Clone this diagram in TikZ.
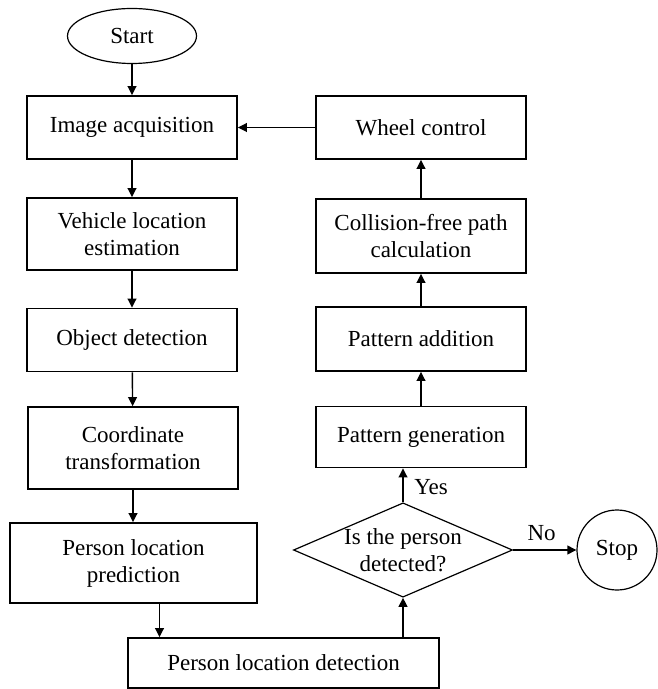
\documentclass[tikz,border=0pt]{standalone}
\usepackage{fontspec}
\setmainfont{Liberation Serif}
\usetikzlibrary{shapes.geometric,arrows.meta}
\tikzset{>={Triangle[length=4.5pt,width=4.4pt]}}
\tikzset{txt/.style={font=\fontsize{11.5}{13.5}\selectfont, align=center},
  box/.style={txt, draw, line width=0.9pt, inner sep=0pt, minimum width=105pt, minimum height=31.5pt},
  flow/.style={->, line width=0.7pt}}

\begin{document}
\begin{tikzpicture}[x=0.5pt, y=-0.5pt]
    \useasboundingbox (0,0) rectangle (657,689);
    \node[txt, draw, line width=0.6pt, ellipse, inner sep=0pt, minimum width=64.5pt, minimum height=27.5pt] (start) at (132,36) {Start};
    \node[box] (acq) at (132,127.5) {Image acquisition};
    \node[box, minimum height=36pt] (veh) at (132,234) {Vehicle location\\estimation};
    \node[box] (obj) at (132,340) {Object detection};
    \node[box, minimum height=41pt] (coord) at (133,448) {Coordinate\\transformation};
    \node[box, minimum width=123.5pt, minimum height=40pt] (pred) at (133.5,563) {Person location\\prediction};
    \node[box, minimum width=155.5pt, minimum height=25pt] (det) at (283.5,663) {Person location detection};
    \node[txt, draw, line width=0.6pt, diamond, shape aspect=2.3, inner sep=0pt, minimum width=109.5pt] (dec) at (403,550) {Is the person\\detected?};
    \node[txt, draw, line width=0.6pt, circle, inner sep=0pt, minimum size=40pt] (stop) at (617,550) {Stop};
    \node[box, minimum height=30.5pt] (gen) at (421,437) {Pattern generation};
    \node[box, minimum height=32pt] (add) at (421,339) {Pattern addition};
    \node[box, minimum height=37pt] (coll) at (421,236) {Collision-free path\\calculation};
    \node[box] (wheel) at (421,127.5) {Wheel control};

    \draw[flow] (start) -- (acq);
    \draw[flow] (acq) -- (veh);
    \draw[flow] (veh) -- (obj);
    \draw[flow] (obj) -- (coord);
    \draw[flow] (coord.south) -- (coord.south |- pred.north);
    \draw[flow] ([xshift=13pt]pred.south) -- ([xshift=13pt]pred.south |- det.north);
    \draw[flow] (det.north -| dec.south) -- (dec.south);
    \draw[flow] (dec.north) -- (dec.north |- gen.south) node[txt, pos=0.45, right, xshift=2pt] {Yes};
    \draw[flow] (dec.east) -- (stop.west) node[txt, pos=0.45, above, yshift=1pt] {No};
    \draw[flow] (gen) -- (add);
    \draw[flow] (add) -- (coll);
    \draw[flow] (coll) -- (wheel);
    \draw[flow] (wheel) -- (acq);
\end{tikzpicture}
\end{document}
